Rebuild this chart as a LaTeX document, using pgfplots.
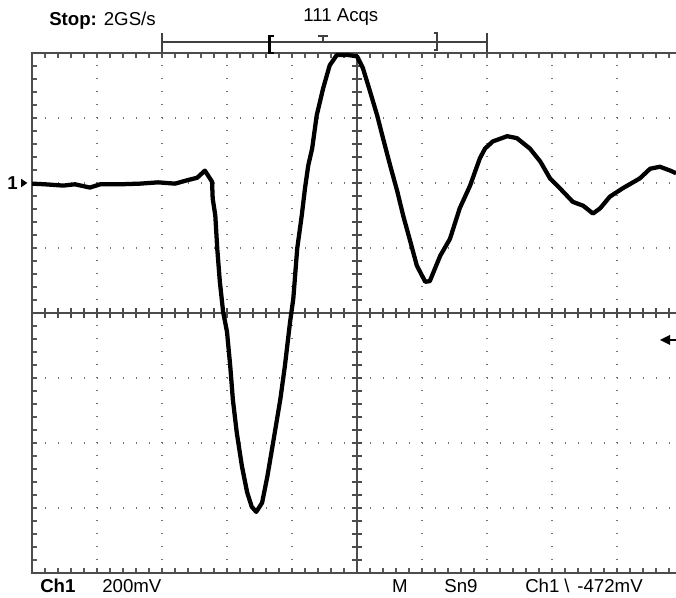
\documentclass[border=0pt]{standalone}
\usepackage{pgfplots}
\pgfplotsset{compat=1.18}
\usepackage{fontspec}
\setmainfont{Liberation Sans}

\begin{document}
\begin{tikzpicture}[x=1pt, y=1pt, every node/.style={inner sep=0pt, font=\fontsize{14}{16}\selectfont}]
  \useasboundingbox (0,0) rectangle (507,448.5);

  \begin{axis}[
      at={(24pt,18.75pt)}, anchor=south west,
      scale only axis,
      width=483pt, height=390pt,
      xmin=0, xmax=9.9077,
      ymin=-4, ymax=4,
      axis line style={draw=none},
      xtick={0,...,10}, ytick={-4,...,4},
      minor x tick num=4, minor y tick num=4,
      xticklabels={}, yticklabels={},
      xtick pos=both, ytick pos=left,
      tick align=inside,
      major tick length=4pt, minor tick length=4pt,
      tick style={color=black!65, line width=0.9pt},
      grid=major,
      grid style={color=black!55, line width=1.1pt, dash pattern=on 1.1pt off 8.65pt},
      clip mode=individual,
    ]

    % centre cross with its small ticks
    \draw[black!70, line width=1.1pt] (axis cs:5,-4) -- (axis cs:5,4);
    \draw[black!70, line width=1.1pt] (axis cs:0,0) -- (axis cs:9.9077,0);
    \pgfplotsinvokeforeach{0.2,0.4,...,9.8}{
      \draw[black!70, line width=0.9pt] (axis cs:#1,-0.08) -- (axis cs:#1,0.08);
    }
    \pgfplotsinvokeforeach{-3.8,-3.6,...,3.8}{
      \draw[black!70, line width=0.9pt] (axis cs:4.92,#1) -- (axis cs:5.08,#1);
    }

    % frame (right edge is cut off in the screenshot)
    \draw[black!70, line width=1.2pt]
      (axis cs:9.9077,4) -- (axis cs:0,4) -- (axis cs:0,-4) -- (axis cs:9.9077,-4);

    % Ch1 trace, in divisions
    \addplot[black, line width=3.2pt, line join=round, mark=none] coordinates {
      (0.00,1.99) (0.20,1.98) (0.48,1.96) (0.66,1.98) (0.89,1.93)
      (1.05,1.98) (1.35,1.98) (1.66,1.99) (1.94,2.01) (2.20,1.99)
      (2.38,2.04) (2.54,2.08) (2.66,2.19) (2.77,2.02) (2.78,1.76)
      (2.82,1.50) (2.85,0.99) (2.89,0.48) (2.94,0.02) (3.00,-0.29)
      (3.05,-0.82) (3.09,-1.33) (3.15,-1.84) (3.23,-2.36) (3.31,-2.76)
      (3.38,-2.98) (3.45,-3.06) (3.54,-2.92) (3.62,-2.52) (3.71,-1.99)
      (3.82,-1.33) (3.89,-0.82) (3.97,-0.14) (4.02,0.22) (4.08,0.99)
      (4.15,1.50) (4.20,1.92) (4.25,2.27) (4.31,2.53) (4.38,3.04)
      (4.48,3.46) (4.58,3.81) (4.69,3.97) (4.85,3.97) (5.00,3.95)
      (5.09,3.77) (5.20,3.41) (5.31,3.04) (5.40,2.69) (5.51,2.27)
      (5.62,1.87) (5.71,1.50) (5.82,1.10) (5.92,0.73) (6.05,0.48)
      (6.12,0.49) (6.28,0.88) (6.43,1.14) (6.58,1.61) (6.74,1.96)
      (6.89,2.38) (6.97,2.53) (7.09,2.64) (7.31,2.72) (7.46,2.69)
      (7.66,2.53) (7.82,2.33) (7.97,2.07) (8.12,1.92) (8.32,1.71)
      (8.48,1.65) (8.63,1.53) (8.74,1.61) (8.89,1.79) (9.09,1.92)
      (9.35,2.07) (9.51,2.22) (9.66,2.25) (9.82,2.19) (9.91,2.15)
    };
  \end{axis}

  % header
  \node[anchor=base west] at (36.75,429) {\textbf{Stop:} 2GS/s};
  \node[anchor=base west] at (227.25,432) {111 Acqs};

  % record bar with trigger markers
  \draw[black!75, line width=0.8pt] (121.5,417) -- (365.25,417);
  \draw[black!75, line width=0.8pt] (121.5,423.75) -- (121.5,409.5);
  \draw[black!75, line width=0.8pt] (365.25,423.75) -- (365.25,409.5);
  \draw[black, line width=2pt] (205.5,421.5) -- (202,421.5) -- (202,408.75) -- (205.5,408.75);
  \draw[black!75, line width=0.8pt] (238.5,421.5) -- (246,421.5);
  \draw[black!75, line width=0.8pt] (242.25,421.5) -- (242.25,417);
  \draw[black!75, line width=0.8pt] (325.5,423.75) -- (327.75,423.75) -- (327.75,411) -- (325.5,411);

  % channel ground marker and trigger level arrow
  \node at (9.5,311.25) {\textbf{1}};
  \fill (15.75,314.5) -- (20.5,311.25) -- (15.75,308) -- cycle;
  \fill (495,193.5) -- (502.5,197.25) -- (502.5,189.75) -- cycle;
  \draw[line width=0.8pt] (502.5,193.5) -- (507,193.5);

  % footer
  \node[anchor=base west] at (30,4) {\textbf{Ch1}};
  \node[anchor=base west] at (76.5,4) {200mV};
  \node[anchor=base] at (300,4) {M};
  \node[anchor=base] at (345.75,4) {Sn9};
  \node[anchor=base west] at (393.75,4) {Ch1};
  \node[anchor=base] at (425.25,4) {\textbackslash};
  \node[anchor=base east] at (482.25,4) {-472mV};
\end{tikzpicture}
\end{document}
